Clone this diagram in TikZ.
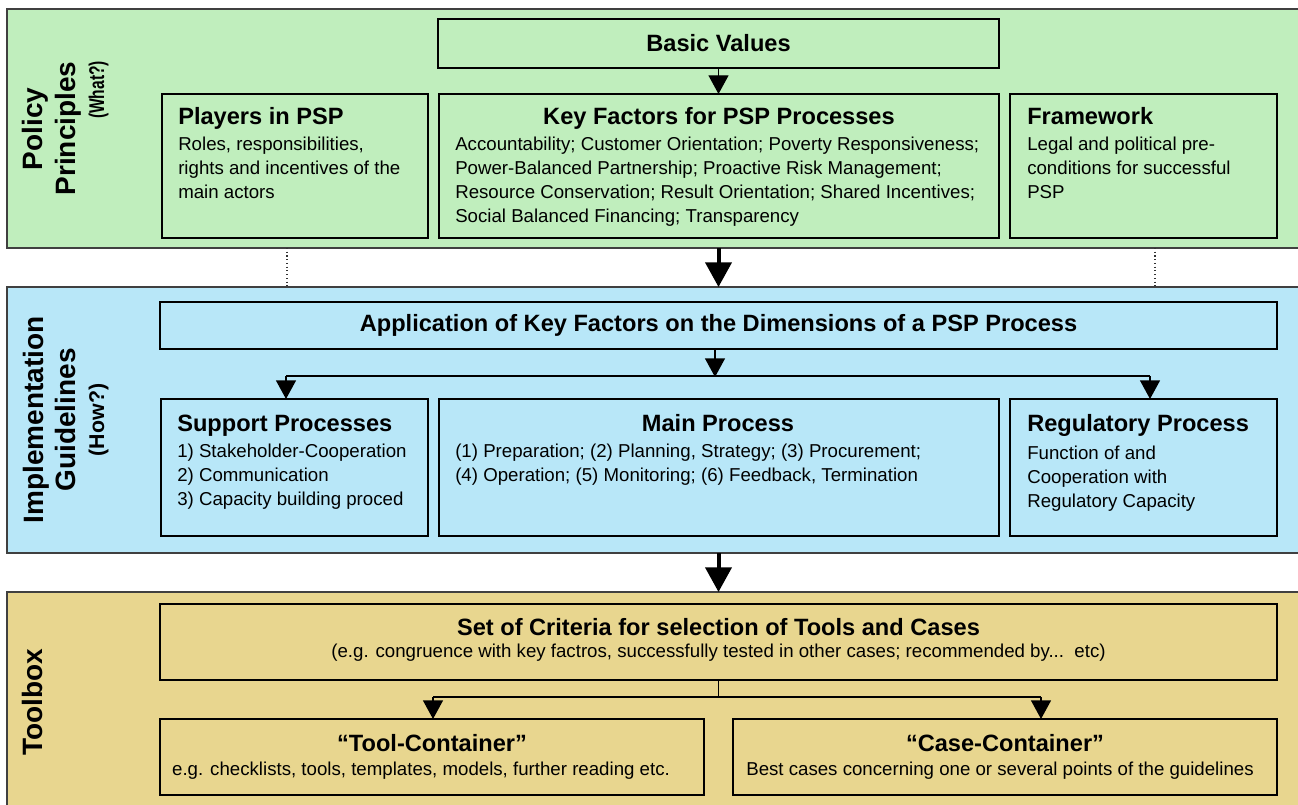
\documentclass[tikz,border=0pt]{standalone}
\usepackage{fontspec}
\setmainfont{Liberation Sans}
\usetikzlibrary{arrows.meta}
\definecolor{policygreen}{RGB}{192,238,189}
\definecolor{guideblue}{RGB}{184,231,248}
\definecolor{toolsand}{RGB}{232,214,143}
\begin{document}
\begin{tikzpicture}[x=0.75pt, y=-0.75pt,
  pxsize/.style 2 args={minimum width={#1*0.75pt}, minimum height={#2*0.75pt}},
  band/.style={draw=black!75, line width=1.5pt, inner sep=0pt, outer sep=0pt},
  box/.style={draw=black, line width=1.5pt, inner sep=0pt, outer sep=0pt},
  ttl/.style={font=\fontsize{17.7}{21}\selectfont\bfseries, inner sep=0pt},
  txt/.style={font=\fontsize{14}{18}\selectfont, inner sep=0pt},
  side/.style={font=\fontsize{21}{24}\selectfont\bfseries, rotate=90, inner sep=0pt, anchor=base},
  sidesub/.style={side, font=\fontsize{16}{19}\selectfont\bfseries},
  link/.style={draw=black, line width=1pt},
  arr/.style={link, -{Triangle[width=15pt,length=14pt]}},
  bigarr/.style={draw=black, line width=3pt, -{Triangle[width=19.5pt,length=18.5pt]}},
  guide/.style={draw=black!80, line width=0.8pt, dotted},
]
\useasboundingbox (0,0) rectangle (1298,805);
\clip (0,0) rectangle (1298,805);

% three horizontal bands
\node[band, fill=policygreen, pxsize={1298}{239}] (pp) at (656,128.5) {};
\node[band, fill=guideblue,   pxsize={1298}{266}] (ig) at (656,420) {};
\node[band, fill=toolsand,    pxsize={1298}{220}] (tb) at (656,702) {};

% band labels
\node[side] (pp1) at (42,129) {Policy};
\node[side] (pp2) at (75,128.5) {Principles};
\node[sidesub] (pp3) at (104,90) {\scalebox{0.73}[1]{(What?)}};
\node[side] (ig1) at (43,420) {Implementation};
\node[side] (ig2) at (75,420) {Guidelines};
\node[sidesub] (ig3) at (104,420) {(How?)};
\node[side] (tb1) at (42,702) {Toolbox};

% policy principles
\node[box, ttl, pxsize={561}{49}] (basic) at (718.5,43.5) {Basic Values};
\node[box, pxsize={266}{144}] (players) at (295,166) {};
\node[box, pxsize={560}{144}] (keyf) at (719,166) {};
\node[box, pxsize={267}{144}] (frame) at (1143.5,166) {};

\node[ttl, anchor=base west] (players-t) at (178,125) {Players in PSP};
\foreach \t [count=\i] in {{Roles, responsibilities,},{rights and incentives of the},{main actors}}
  \node[txt, anchor=base west] (players-\i) at (178,127+24*\i) {\t};

\node[ttl, anchor=base] (keyf-t) at (719,125) {Key Factors for PSP Processes};
\foreach \t [count=\i] in {{Accountability; Customer Orientation; Poverty Responsiveness;},
  {Power-Balanced Partnership; Proactive Risk Management;},
  {Resource Conservation; Result Orientation; Shared Incentives;},
  {Social Balanced Financing; Transparency}}
  \node[txt, anchor=base west] (keyf-\i) at (455,127+24*\i) {\t};

\node[ttl, anchor=base west] (frame-t) at (1027,125) {Framework};
\foreach \t [count=\i] in {{Legal and political pre-},{conditions for successful},{PSP}}
  \node[txt, anchor=base west] (frame-\i) at (1027,127+24*\i) {\t};

% implementation guidelines
\node[box, ttl, pxsize={1117}{47}] (appl) at (718.5,325.5) {Application of Key Factors on the Dimensions of a PSP Process};
\node[box, pxsize={267}{137}] (support) at (294.5,467.5) {};
\node[box, pxsize={560}{137}] (main) at (719,467.5) {};
\node[box, pxsize={267}{137}] (reg) at (1143.5,467.5) {};

\node[ttl, anchor=base west] (support-t) at (177,431) {Support Processes};
\foreach \t [count=\i] in {{1) Stakeholder-Cooperation},{2) Communication},{3) Capacity building proced}}
  \node[txt, anchor=base west] (support-\i) at (177,433+24*\i) {\t};

\node[ttl, anchor=base] (main-t) at (718,431) {Main Process};
\foreach \t [count=\i] in {{(1) Preparation; (2) Planning, Strategy; (3) Procurement;},
  {(4) Operation; (5) Monitoring; (6) Feedback, Termination}}
  \node[txt, anchor=base west] (main-\i) at (455,433+24*\i) {\t};

\node[ttl, anchor=base west] (reg-t) at (1027,431) {Regulatory Process};
\foreach \t [count=\i] in {{Function of and},{Cooperation with},{Regulatory Capacity}}
  \node[txt, anchor=base west] (reg-\i) at (1027,435+24*\i) {\t};

% toolbox
\node[box, pxsize={1117}{76}] (crit) at (718.5,642) {};
\node[box, pxsize={544}{76}] (toolc) at (432,757) {};
\node[box, pxsize={544}{76}] (casec) at (1005,757) {};

\node[ttl, anchor=base] (crit-t) at (718.5,635) {Set of Criteria for selection of Tools and Cases};
\node[txt, anchor=base] (crit-s) at (718.5,657) {(e.g. congruence with key factros, successfully tested in other cases; recommended by...\ \ etc)};
\node[ttl, anchor=base] (toolc-t) at (432,751) {“Tool-Container”};
\node[txt, anchor=base] (toolc-s) at (421,775) {e.g. checklists, tools, templates, models, further reading etc.};
\node[ttl, anchor=base] (casec-t) at (1005,751) {“Case-Container”};
\node[txt, anchor=base] (casec-s) at (1000,775) {Best cases concerning one or several points of the guidelines};

% junction points of the branching connectors
\coordinate (jl) at (286,376);
\coordinate (jr) at (1150,376);
\coordinate (tl) at (433,697);
\coordinate (tr) at (1041,697);
\coordinate (dl) at (287,0);
\coordinate (dr) at (1155,0);

% connectors
\draw[arr] (basic.south) -- (basic.south |- keyf.north);
\draw[bigarr] (pp.south -| basic) -- (ig.north -| basic);
\draw[bigarr] (ig.south -| basic) -- (tb.north -| basic);
\draw[guide] (pp.south -| dl) -- (ig.north -| dl);
\draw[guide] (pp.south -| dr) -- (ig.north -| dr);

\draw[link] (jl) -- (jr);
\draw[arr] (appl.south -| 715,0) -- (715,377);
\draw[arr] (jl) -- (jl |- support.north);
\draw[arr] (jr) -- (jr |- reg.north);

\draw[link] (crit.south) -- (crit.south |- tl);
\draw[link] (tl) -- (tr);
\draw[arr] (tl) -- (tl |- toolc.north);
\draw[arr] (tr) -- (tr |- casec.north);
\end{tikzpicture}
\end{document}
